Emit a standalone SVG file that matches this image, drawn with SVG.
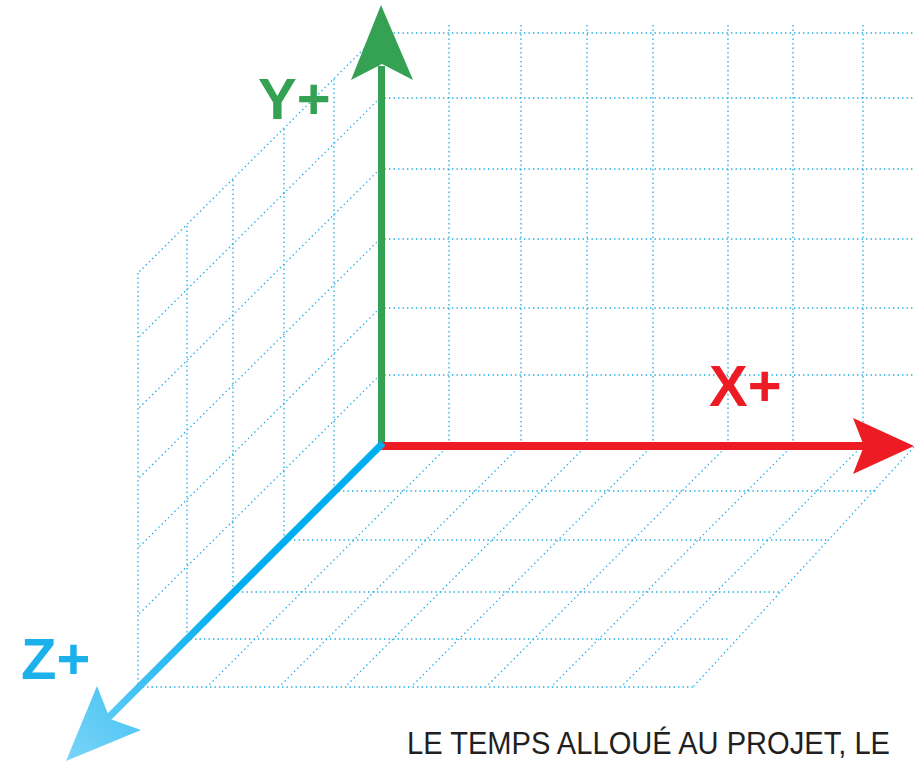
<svg xmlns="http://www.w3.org/2000/svg" width="914" height="762" viewBox="0 0 914 762">
  <style>
    .g { stroke: #1fade8; stroke-width: 1.3; stroke-dasharray: 1.4 3.1; fill: none; }
    .lbl { font-family: "Liberation Sans", Arial, sans-serif; font-weight: bold; font-size: 58px; }
    .cap { font-family: "Liberation Sans", Arial, sans-serif; font-size: 31px; fill: #231f20; }
  </style>
  <defs>
    <linearGradient id="zg" gradientUnits="userSpaceOnUse" x1="380" y1="445" x2="66" y2="761">
      <stop offset="0" stop-color="#00aeef"/>
      <stop offset="0.5" stop-color="#00aeef"/>
      <stop offset="1" stop-color="#7dd4f7"/>
    </linearGradient>
  </defs>
  <rect width="914" height="762" fill="#ffffff"/>

  <g id="grid-back">
    <path class="g" d="M449 25V445M521 25V445M587 25V445M653 25V445M728 25V445M793 25V445M863 25V445"/>
    <path class="g" d="M380 33H914M380 98H914M380 169H914M380 239H914M380 308H914M380 375H914"/>
  </g>
  <g id="grid-left">
    <path class="g" d="M138 273V687M187 226V638M233 180V592M284 129V541M334 79V491"/>
    <path class="g" d="M380 33L138 273M380 98L138 338M380 169L138 409M380 239L138 479M380 308L138 548M380 375L138 615"/>
  </g>
  <g id="grid-floor">
    <path class="g" d="M334 491H877M285 540H829M233 592H782M186 639H730M138 687H693"/>
    <path class="g" d="M449 445L207 687M521 445L279 687M587 445L345 687M653 445L411 687M728 445L486 687M793 445L551 687M863 445L621 687M914 447L693 687"/>
  </g>

  <g id="connectors">
    <g id="axis-y">
      <line x1="381.5" y1="446" x2="381.5" y2="66" stroke="#34a153" stroke-width="7"/>
      <polygon points="381,5 413,80 382,64 351,80" fill="#34a153"/>
    </g>
    <g id="axis-x">
      <line x1="378" y1="446" x2="866" y2="446" stroke="#ed1c24" stroke-width="8"/>
      <polygon points="914,446 853,418 864,446 853,474" fill="#ed1c24"/>
    </g>
    <g id="axis-z">
      <line x1="383" y1="443" x2="107" y2="719" stroke="url(#zg)" stroke-width="7"/>
      <polygon points="66,761 97,686 110,719 141,730" fill="url(#zg)"/>
    </g>
  </g>

  <g id="label-y"><text class="lbl" x="258" y="119" fill="#34a153">Y+</text></g>
  <g id="label-x"><text class="lbl" x="709" y="406" fill="#ed1c24">X+</text></g>
  <g id="label-z"><text class="lbl" x="21" y="679" fill="#1cb1eb">Z+</text></g>
  <g id="caption"><text class="cap" x="407" y="754" textLength="483" lengthAdjust="spacingAndGlyphs">LE TEMPS ALLOUÉ AU PROJET, LE</text></g>
</svg>
